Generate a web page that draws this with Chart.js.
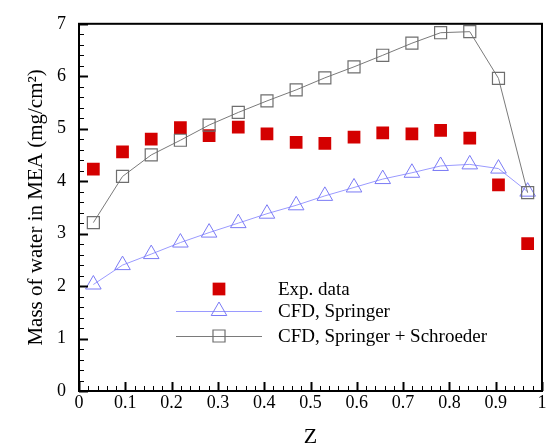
<!DOCTYPE html>
<html>
<head>
<meta charset="utf-8">
<script src="https://cdn.jsdelivr.net/npm/chart.js@4"></script>
<style>
html,body{margin:0;padding:0;background:#fff;}
#wrap{width:560px;height:448px;position:relative;}
</style>
</head>
<body>
<div id="wrap"><canvas id="c" width="560" height="448"></canvas></div>
<script>
const zValues = [0.031, 0.094, 0.156, 0.219, 0.281, 0.344, 0.406, 0.469, 0.531, 0.594, 0.656, 0.719, 0.781, 0.844, 0.906, 0.969];
const expData = [4.23, 4.56, 4.80, 5.02, 4.87, 5.03, 4.90, 4.74, 4.72, 4.84, 4.92, 4.90, 4.97, 4.82, 3.93, 2.81];
const springer = [2.03, 2.40, 2.61, 2.83, 3.02, 3.20, 3.38, 3.54, 3.72, 3.88, 4.04, 4.16, 4.29, 4.32, 4.24, 3.80];
const schroeder = [3.21, 4.09, 4.50, 4.78, 5.07, 5.31, 5.53, 5.74, 5.97, 6.18, 6.40, 6.63, 6.83, 6.85, 5.96, 3.78];
const seriesNames = ["Exp. data", "CFD, Springer", "CFD, Springer + Schroeder"];
const xTicks = [0, 0.1, 0.2, 0.3, 0.4, 0.5, 0.6, 0.7, 0.8, 0.9, 1];
const yTicks = [0, 1, 2, 3, 4, 5, 6, 7];

const pts = (ys) => zValues.map((z, i) => ({x: z, y: ys[i]}));
const FONT = "'Liberation Serif', 'Times New Roman', serif";

const boxTicks = {
  id: 'boxTicks',
  afterDraw(chart) {
    const ctx = chart.ctx;
    const xs = chart.scales.x, ys = chart.scales.y;
    const a = chart.chartArea;
    ctx.save();
    ctx.strokeStyle = '#000';
    for (let i = 0; i <= 50; i++) {
      const v = i / 50;
      const px = Math.round(xs.getPixelForValue(v)) + 0.5;
      const len = (i % 5 === 0) ? 9 : 5;
      ctx.lineWidth = (i % 5 === 0) ? 2 : 1;
      ctx.beginPath(); ctx.moveTo(px, a.bottom); ctx.lineTo(px, a.bottom - len); ctx.stroke();
    }
    for (let i = 0; i <= 35; i++) {
      const v = i / 5;
      const py = Math.round(ys.getPixelForValue(v)) + 0.5;
      const len = (i % 5 === 0) ? 9 : 5;
      ctx.lineWidth = (i % 5 === 0) ? 2 : 1;
      ctx.beginPath(); ctx.moveTo(a.left, py); ctx.lineTo(a.left + len, py); ctx.stroke();
    }
    ctx.lineWidth = 2;
    ctx.strokeRect(a.left, a.top, a.right - a.left, a.bottom - a.top);

    // legend
    const lx0 = 176, lx1 = 262, mx = 219, tx = 278;
    const rows = [289, 311, 336];
    chart.data.datasets.forEach((ds, i) => {
      const y = rows[i];
      if (ds.showLine) {
        ctx.strokeStyle = ds.borderColor;
        ctx.lineWidth = 1;
        ctx.beginPath(); ctx.moveTo(lx0, y + 0.5); ctx.lineTo(lx1, y + 0.5); ctx.stroke();
      }
      ctx.save();
      ctx.fillStyle = ds.pointBackgroundColor;
      ctx.strokeStyle = ds.pointBorderColor;
      ctx.lineWidth = ds.pointBorderWidth;
      Chart.helpers.drawPoint(ctx, {
        pointStyle: ds.pointStyle, radius: ds.pointRadius, rotation: 0,
        borderWidth: ds.pointBorderWidth
      }, mx, y);
      ctx.restore();
      ctx.font = "19px " + FONT;
      ctx.textBaseline = 'middle';
      ctx.textAlign = 'left';
      ctx.fillStyle = '#000';
      ctx.fillText(seriesNames[i], tx, y + 1);
    });
    ctx.restore();
  }
};

new Chart(document.getElementById('c'), {
  type: 'scatter',
  data: {
    datasets: [
      {
        label: seriesNames[0], data: pts(expData), showLine: false,
        pointStyle: 'rect', pointRadius: 9, pointHoverRadius: 9,
        pointBackgroundColor: '#d40000', pointBorderColor: '#d40000', pointBorderWidth: 0,
        borderColor: '#d40000', order: 3
      },
      {
        label: seriesNames[1], data: pts(springer), showLine: true,
        borderColor: '#9a9aff', borderWidth: 1, tension: 0,
        pointStyle: 'triangle', pointRadius: 9, pointHoverRadius: 9,
        pointBackgroundColor: 'rgba(0,0,0,0)', pointBorderColor: '#7a7af5', pointBorderWidth: 1,
        order: 2
      },
      {
        label: seriesNames[2], data: pts(schroeder), showLine: true,
        borderColor: '#7a7a7a', borderWidth: 1, tension: 0,
        pointStyle: 'rect', pointRadius: 8.5, pointHoverRadius: 8.5,
        pointBackgroundColor: 'rgba(0,0,0,0)', pointBorderColor: '#6e6e6e', pointBorderWidth: 1.2,
        order: 1
      }
    ]
  },
  options: {
    responsive: false,
    animation: false,
    events: [],
    layout: { padding: { left: 0, right: 18, top: 16, bottom: 0 } },
    plugins: { legend: { display: false }, tooltip: { enabled: false } },
    scales: {
      x: {
        type: 'linear', min: 0, max: 1,
        afterFit(s) { s.height = 57; },
        afterBuildTicks(s) { s.ticks = xTicks.map(v => ({value: v})); },
        grid: { display: false, drawTicks: false },
        border: { display: false },
        ticks: { font: { family: FONT, size: 18 }, color: '#000', padding: 1,
                 callback: v => String(v) },
        title: { display: true, text: 'Z', font: { family: FONT, size: 22, lineHeight: 1.0 }, color: '#000',
                 padding: { top: 0, bottom: 0 } }
      },
      y: {
        type: 'linear', min: 0, max: 7,
        afterFit(s) { s.width = 79; },
        afterBuildTicks(s) { s.ticks = yTicks.map(v => ({value: v})); },
        grid: { display: false, drawTicks: false },
        border: { display: false },
        ticks: { font: { family: FONT, size: 18 }, color: '#000', padding: 13,
                 callback: v => String(v) },
        title: { display: true, text: 'Mass of water in MEA (mg/cm²)', font: { family: FONT, size: 21, lineHeight: 1.2 },
                 color: '#000', padding: { top: 24, bottom: 0 } }
      }
    }
  },
  plugins: [boxTicks]
});
</script>
</body>
</html>
